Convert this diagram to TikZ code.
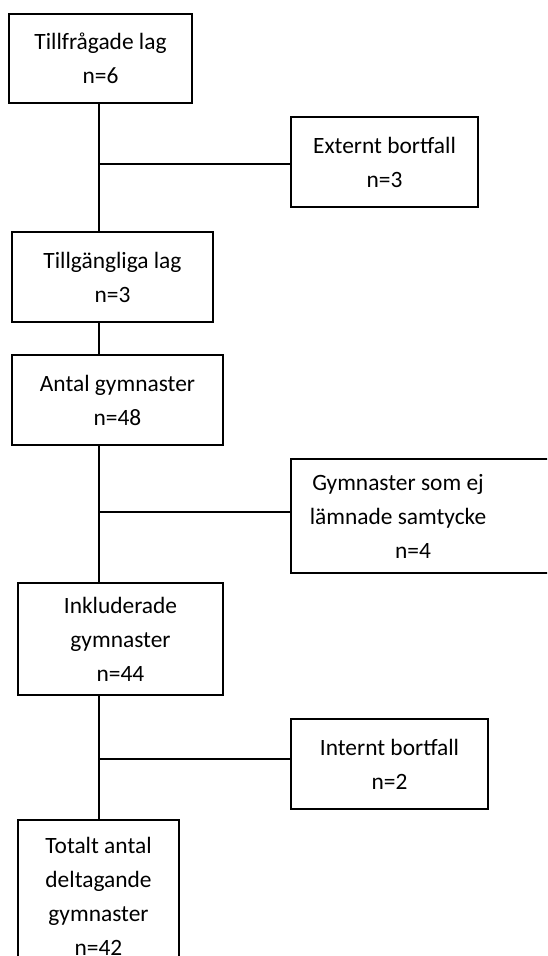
\documentclass[tikz,border=0pt]{standalone}
\usepackage{fontspec}
\setmainfont{Carlito}
\usepackage{tikz}
\usetikzlibrary{positioning, calc}

\begin{document}
\begin{tikzpicture}[
    x=0.5pt, y=-0.5pt,
    % Styles
    box/.style={rectangle, draw=black, line width=1pt, inner sep=0pt, outer sep=0pt, align=center, font=\fontsize{11.7}{17}\selectfont},
    txt/.style={inner sep=0pt, align=center, font=\fontsize{11.7}{17}\selectfont},
    link/.style={line width=1pt},
]
\useasboundingbox (0,0) rectangle (547,956);
\clip (0,0) rectangle (547,956);

% ===== MAIN FLOW =====
\node[box, minimum width=91.5pt, minimum height=44.5pt] (asked) at (100.5, 58.5) {Tillfrågade lag\\n=6};
\node[box, minimum width=100.5pt, minimum height=45pt] (avail) at (112.5, 277) {Tillgängliga lag\\n=3};
\node[box, minimum width=105.5pt, minimum height=45pt] (gym) at (117.5, 400) {Antal gymnaster\\n=48};
\node[box, minimum width=102.5pt, minimum height=56pt] (incl) at (120.5, 639) {Inkluderade\\gymnaster\\n=44};
\node[box, minimum width=80.5pt, minimum height=76.5pt] (total) at (98.5, 896.5) {Totalt antal\\deltagande\\gymnaster\\n=42};

% ===== DROP-OUTS =====
\node[box, minimum width=93.5pt, minimum height=45pt] (ext) at (384.5, 162) {Externt bortfall\\n=3};
\node[box, minimum width=134.5pt, minimum height=57pt] (nocons) at (425.5, 516) {};
\node[txt] (noconstxt) at ([xshift=-13.75pt]nocons.center) {Gymnaster som ej\\lämnade samtycke\\\hspace*{15pt}n=4};
\node[box, minimum width=98.5pt, minimum height=45pt] (intern) at (389.5, 764) {Internt bortfall\\n=2};

% ===== LINES =====
\coordinate (spine) at (98.5, 0);

% Vertical trunk
\draw[link] (asked.south -| spine) -- (avail.north -| spine);
\draw[link] (avail.south -| spine) -- (gym.north -| spine);
\draw[link] (gym.south -| spine) -- (incl.north -| spine);
\draw[link] (incl.south -| spine) -- (total.north -| spine);

% Side branches
\draw[link] ([yshift=-1pt]ext.west -| spine) -- ([yshift=-1pt]ext.west);
\draw[link] ([yshift=2pt]nocons.west -| spine) -- ([yshift=2pt]nocons.west);
\draw[link] ([yshift=2.5pt]intern.west -| spine) -- ([yshift=2.5pt]intern.west);

\end{tikzpicture}
\end{document}
